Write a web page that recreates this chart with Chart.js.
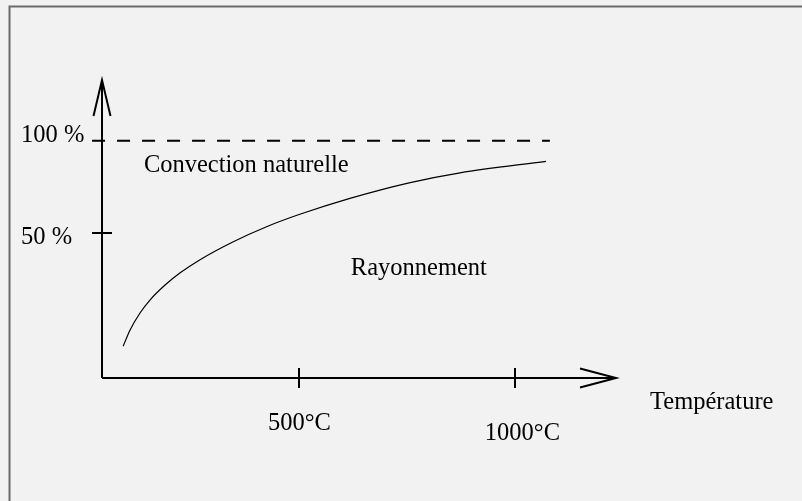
<!DOCTYPE html>
<html>
<head>
<meta charset="utf-8">
<script src="https://cdn.jsdelivr.net/npm/chart.js@4/dist/chart.umd.min.js"></script>
<style>
html,body{margin:0;padding:0;background:#f2f2f2;}
#wrap{position:relative;width:802px;height:501px;}
</style>
</head>
<body>
<div id="wrap"><canvas id="c" width="802" height="501"></canvas></div>
<script>
// ---- data ----
const curveTemps = [93, 109, 132, 155, 190, 225, 271, 348, 425, 502, 618, 755, 873, 1072];
const curveShares = [-10.9, -2.2, 7.0, 14.0, 22.1, 28.7, 35.8, 45.5, 53.6, 60.3, 68.9, 77.3, 82.7, 88.9];
const limitTemps = [21, 1081];
const limitShares = [100, 100];
const xTickValues = [500, 1000];
const xTickLabels = ['500°C', '1000°C'];
const yTickValues = [50, 100];
const yTickLabels = ['50 %', '100 %'];
const xAxisTitle = 'Température';
const regionLabels = ['Convection naturelle', 'Rayonnement'];

const FONT = '24.5px "Liberation Serif", "Times New Roman", serif';

const deco = {
  id: 'deco',
  beforeDraw(chart) {
    const ctx = chart.ctx;
    ctx.save();
    ctx.fillStyle = '#f2f2f2';
    ctx.fillRect(0, 0, chart.width, chart.height);
    ctx.strokeStyle = '#6b6b6b';
    ctx.lineWidth = 2;
    ctx.beginPath();
    ctx.moveTo(9.5, chart.height + 5);
    ctx.lineTo(9.5, 6.5);
    ctx.lineTo(chart.width + 5, 6.5);
    ctx.stroke();
    ctx.restore();
  },
  afterDatasetsDraw(chart) {
    const ctx = chart.ctx;
    const xs = chart.scales.x, ys = chart.scales.y;
    const ca = chart.chartArea;
    const x0 = ca.left, y0 = ca.bottom;
    ctx.save();
    ctx.strokeStyle = '#000';
    ctx.lineWidth = 2;
    ctx.lineCap = 'butt';
    // axes
    ctx.beginPath();
    ctx.moveTo(x0, y0); ctx.lineTo(x0, ca.top);
    ctx.moveTo(x0, y0); ctx.lineTo(ca.right, y0);
    ctx.stroke();
    // arrows
    ctx.beginPath();
    ctx.moveTo(x0 - 8.5, ca.top + 36); ctx.lineTo(x0, ca.top); ctx.lineTo(x0 + 8.5, ca.top + 36);
    ctx.moveTo(ca.right - 36, y0 - 9.5); ctx.lineTo(ca.right, y0); ctx.lineTo(ca.right - 36, y0 + 9.5);
    ctx.stroke();
    // ticks
    ctx.beginPath();
    xTickValues.forEach(v => { const px = Math.round(xs.getPixelForValue(v)); ctx.moveTo(px, y0 - 10); ctx.lineTo(px, y0 + 10); });
    yTickValues.forEach(v => { if (v === 100) return; const py = Math.round(ys.getPixelForValue(v)); ctx.moveTo(x0 - 10, py); ctx.lineTo(x0 + 10, py); });
    ctx.stroke();
    // text
    ctx.fillStyle = '#000';
    ctx.font = FONT;
    ctx.textBaseline = 'alphabetic';
    ctx.textAlign = 'left';
    const yOffsets = [11, 1];
    yTickValues.forEach((v, i) => {
      ctx.fillText(yTickLabels[i], 21, ys.getPixelForValue(v) + yOffsets[i]);
    });
    ctx.textAlign = 'center';
    const xOff = [[0.5, 52], [7.5, 62]];
    xTickValues.forEach((v, i) => {
      ctx.fillText(xTickLabels[i], xs.getPixelForValue(v) + xOff[i][0], y0 + xOff[i][1]);
    });
    ctx.textAlign = 'left';
    ctx.fillText(xAxisTitle, ca.right + 34, y0 + 31);
    ctx.fillText(regionLabels[0], xs.getPixelForValue(141), ys.getPixelForValue(82.9));
    ctx.fillText(regionLabels[1], xs.getPixelForValue(620), ys.getPixelForValue(27.5));
    ctx.restore();
  }
};

new Chart(document.getElementById('c'), {
  type: 'scatter',
  data: {
    datasets: [
      {
        data: curveTemps.map((t, i) => ({x: t, y: curveShares[i]})),
        showLine: true,
        borderColor: '#000',
        borderWidth: 1.2,
        pointRadius: 0,
        cubicInterpolationMode: 'monotone',
        fill: false
      },
      {
        data: limitTemps.map((t, i) => ({x: t, y: limitShares[i]})),
        showLine: true,
        borderColor: '#000',
        borderWidth: 2,
        borderDash: [13, 12],
        pointRadius: 0,
        clip: false,
        fill: false
      }
    ]
  },
  options: {
    responsive: false,
    animation: false,
    devicePixelRatio: 1,
    layout: { padding: { left: 102, top: 80, right: 186, bottom: 123 } },
    plugins: { legend: { display: false }, tooltip: { enabled: false } },
    scales: {
      x: { type: 'linear', min: 44, max: 1234, display: false },
      y: { type: 'linear', min: -28.1, max: 132.8, display: false }
    }
  },
  plugins: [deco]
});
</script>
</body>
</html>
